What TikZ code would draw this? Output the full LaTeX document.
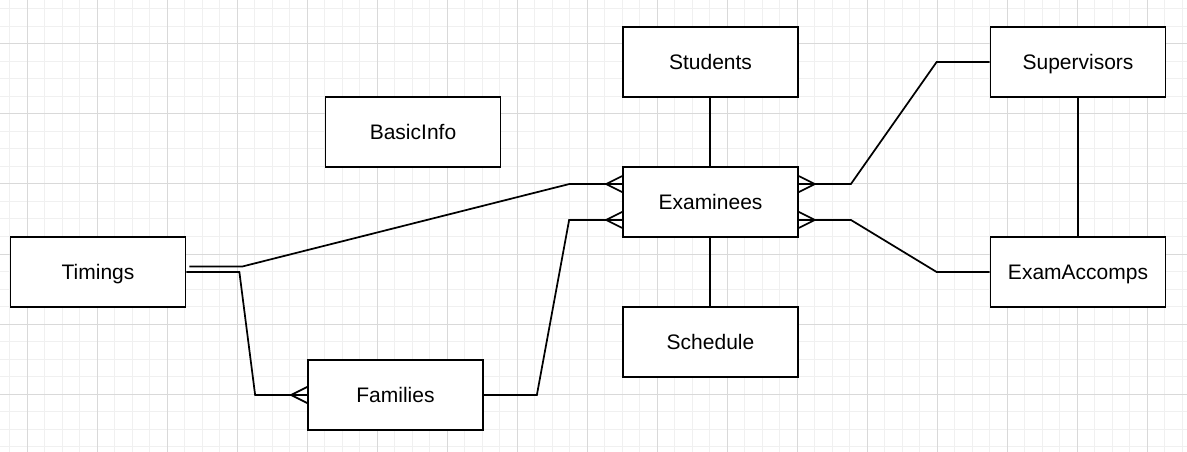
\documentclass[tikz,border=0pt]{standalone}
\usepackage{fontspec}
\setmainfont{Liberation Sans}
\usetikzlibrary{calc}
\newcommand\crowfoot[2]{%
  \draw[conn] ($(#1)+(#2*16,0)$) -- ($(#1)+(0,8)$)
              ($(#1)+(#2*16,0)$) -- ($(#1)+(0,-8)$);}
\begin{document}
\begin{tikzpicture}[x=0.75pt,y=-0.75pt,
  ent/.style={draw=black, line width=1.3pt, fill=white, minimum width=131.25pt,
    minimum height=52.5pt, inner sep=0pt, text height=11.3pt, text depth=-0.75pt,
    font=\fontsize{15.75pt}{18pt}\selectfont},
  conn/.style={draw=black, line width=1.3pt, line join=miter},
  minorgrid/.style={draw=black!6, line width=0.75pt},
  majorgrid/.style={draw=black!15, line width=0.75pt}]
\fill[white] (0,0) rectangle (1187,452);
\useasboundingbox (0,0) rectangle (1187,452);
% grid
\foreach \i in {0,...,67} \draw[minorgrid] (9.5+17.5*\i,0) -- (9.5+17.5*\i,452);
\foreach \i in {0,...,25} \draw[minorgrid] (0,9+17.5*\i) -- (1187,9+17.5*\i);
\foreach \i in {0,...,16} \draw[majorgrid] (27+70*\i,0) -- (27+70*\i,452);
\foreach \i in {0,...,5} \draw[majorgrid] (0,44+70*\i) -- (1187,44+70*\i);
% entities
\node[ent] (Students) at (710.5,62) {Students};
\node[ent] (BasicInfo) at (413,132) {BasicInfo};
\node[ent] (Examinees) at (710.5,202) {Examinees};
\node[ent] (Supervisors) at (1078,62) {Supervisors};
\node[ent] (Timings) at (98,272) {Timings};
\node[ent] (Schedule) at (710.5,342) {Schedule};
\node[ent] (ExamAccomps) at (1078,272) {ExamAccomps};
\node[ent] (Families) at (395.5,395) {Families};
% ports
\coordinate (eL1) at ($(Examinees.north west)!0.25!(Examinees.south west)$);
\coordinate (eL2) at ($(Examinees.north west)!0.75!(Examinees.south west)$);
\coordinate (eR1) at ($(Examinees.north east)!0.25!(Examinees.south east)$);
\coordinate (eR2) at ($(Examinees.north east)!0.75!(Examinees.south east)$);
% connectors
\draw[conn] ([xshift=-0.375pt]Students.south) -- ([xshift=-0.375pt]Examinees.north);
\draw[conn] ([xshift=-0.375pt]Schedule.north) -- ([xshift=-0.375pt]Examinees.south);
\draw[conn] (Supervisors) -- (ExamAccomps);
\draw[conn] (Supervisors.west) -- ++(-53,0) -- ($(eR1)+(52,0)$) -- (eR1);
\draw[conn] (ExamAccomps.west) -- ++(-53,0) -- ($(eR2)+(52,0)$) -- (eR2);
\draw[conn] ($(Timings.east)+(3,-5.5)$) -- ++(53,0) -- ($(eL1)+(-53,0)$) -- (eL1);
\draw[conn] (Timings.east) -- ++(53,0) -- ($(Families.west)+(-52,0)$) -- (Families.west);
\draw[conn] (Families.east) -- ++(53,0) -- ($(eL2)+(-53,0)$) -- (eL2);
% crow's feet
\crowfoot{eL1}{-1}
\crowfoot{eL2}{-1}
\crowfoot{eR1}{1}
\crowfoot{eR2}{1}
\crowfoot{Families.west}{-1}
\end{tikzpicture}
\end{document}
